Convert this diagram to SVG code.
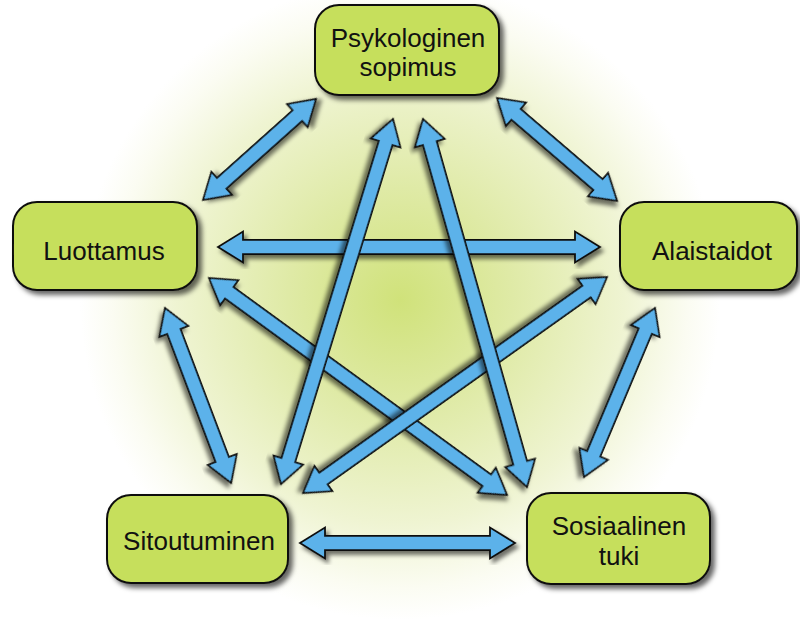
<svg xmlns="http://www.w3.org/2000/svg" width="800" height="623" viewBox="0 0 800 623">
<defs>
<radialGradient id="glow" cx="400" cy="300" r="320" gradientUnits="userSpaceOnUse">
<stop offset="0" stop-color="#d0e27a"/>
<stop offset="0.35" stop-color="#dfeaa6"/>
<stop offset="0.7" stop-color="#eff4d2"/>
<stop offset="0.9" stop-color="#fbfcf2"/>
<stop offset="1" stop-color="#ffffff"/>
</radialGradient>
<filter id="sh" x="-20%" y="-20%" width="140%" height="140%">
<feDropShadow dx="4" dy="4" stdDeviation="2.5" flood-color="#000" flood-opacity="0.6"/>
</filter>
<filter id="ash" x="-20%" y="-20%" width="140%" height="140%">
<feDropShadow dx="3" dy="4" stdDeviation="2" flood-color="#000" flood-opacity="0.55"/>
</filter>
</defs>
<style>
.box{fill:#c6df5b;stroke:#111;stroke-width:2;filter:url(#sh)}
.lbl{font-family:"Liberation Sans",Arial,sans-serif;font-size:26px;fill:#111;text-anchor:middle}
.arr{fill:#5cb2ea;stroke:#111;stroke-width:1.8;stroke-linejoin:miter;filter:url(#ash)}
</style>
<rect width="800" height="623" fill="#ffffff"/>
<rect width="800" height="623" fill="url(#glow)"/>
<g id="connectors">
<polygon class="arr" transform="translate(203,200) rotate(-41.8)" points="0,0 25,-15.5 25,-7.2 126.6,-7.2 126.6,-15.5 151.6,0 126.6,15.5 126.6,7.2 25,7.2 25,15.5"/>
<polygon class="arr" transform="translate(497,98) rotate(40.6)" points="0,0 25,-15.5 25,-7.2 133.1,-7.2 133.1,-15.5 158.1,0 133.1,15.5 133.1,7.2 25,7.2 25,15.5"/>
<polygon class="arr" transform="translate(165,308) rotate(69.3)" points="0,0 25,-15.5 25,-7.2 162,-7.2 162,-15.5 187,0 162,15.5 162,7.2 25,7.2 25,15.5"/>
<polygon class="arr" transform="translate(655,308) rotate(112.8)" points="0,0 25,-15.5 25,-7.2 158.3,-7.2 158.3,-15.5 183.3,0 158.3,15.5 158.3,7.2 25,7.2 25,15.5"/>
<polygon class="arr" transform="translate(300,543)" points="0,0 25,-15.5 25,-7.2 190,-7.2 190,-15.5 215,0 190,15.5 190,7.2 25,7.2 25,15.5"/>
<polygon class="arr" transform="translate(218,247)" points="0,0 25,-15.5 25,-7.2 357,-7.2 357,-15.5 382,0 357,15.5 357,7.2 25,7.2 25,15.5"/>
<polygon class="arr" transform="translate(209,278) rotate(36.06)" points="0,0 25,-15.5 25,-7.2 343.6,-7.2 343.6,-15.5 368.6,0 343.6,15.5 343.6,7.2 25,7.2 25,15.5"/>
<polygon class="arr" transform="translate(607,277) rotate(144.6)" points="0,0 25,-15.5 25,-7.2 347.9,-7.2 347.9,-15.5 372.9,0 347.9,15.5 347.9,7.2 25,7.2 25,15.5"/>
<polygon class="arr" transform="translate(393,119) rotate(107.06)" points="0,0 25,-15.5 25,-7.2 356.8,-7.2 356.8,-15.5 381.8,0 356.8,15.5 356.8,7.2 25,7.2 25,15.5"/>
<polygon class="arr" transform="translate(423,119) rotate(74.22)" points="0,0 25,-15.5 25,-7.2 357.4,-7.2 357.4,-15.5 382.4,0 357.4,15.5 357.4,7.2 25,7.2 25,15.5"/>
</g>
<g id="psykologinen">
<rect class="box" x="315" y="5" width="184" height="90" rx="24"/>
<text class="lbl" x="408" y="47">Psykologinen</text>
<text class="lbl" x="408" y="76">sopimus</text>
</g>
<g id="luottamus">
<rect class="box" x="13" y="202" width="184" height="88" rx="24"/>
<text class="lbl" x="104" y="260">Luottamus</text>
</g>
<g id="alaistaidot">
<rect class="box" x="620" y="202" width="177" height="88" rx="24"/>
<text class="lbl" x="712" y="260">Alaistaidot</text>
</g>
<g id="sitoutuminen">
<rect class="box" x="107" y="495" width="181" height="88" rx="24"/>
<text class="lbl" x="199" y="550">Sitoutuminen</text>
</g>
<g id="sosiaalinen">
<rect class="box" x="527" y="493" width="183" height="91" rx="24"/>
<text class="lbl" x="619" y="535">Sosiaalinen</text>
<text class="lbl" x="619" y="565">tuki</text>
</g>
</svg>
